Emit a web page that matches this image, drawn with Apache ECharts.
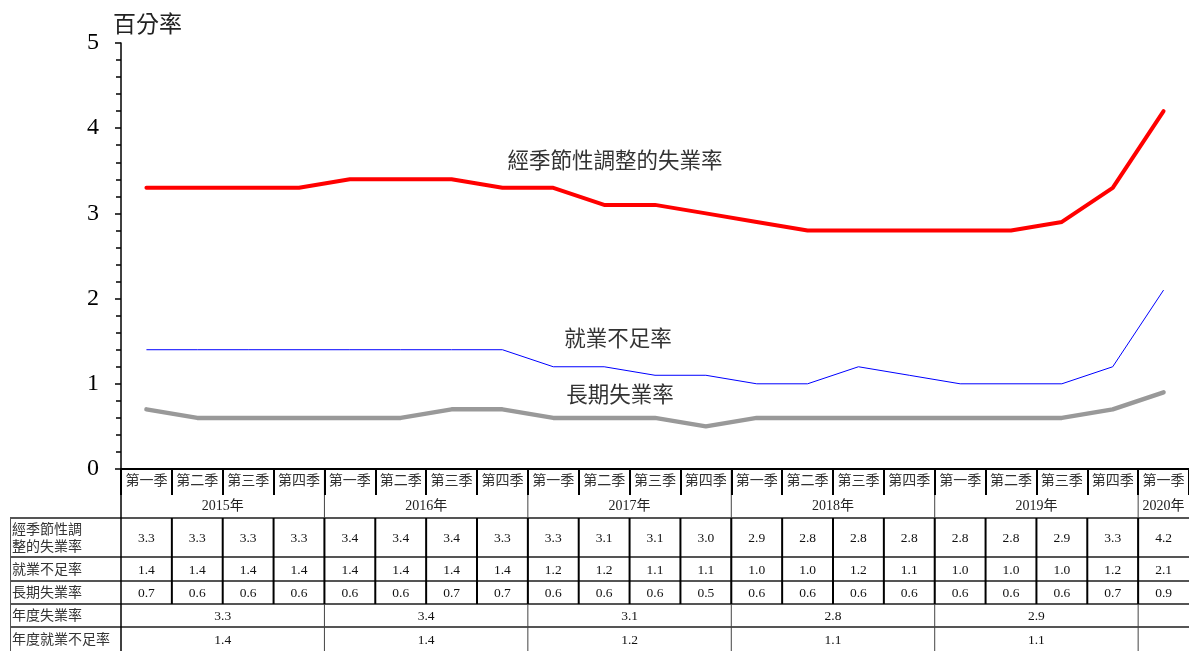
<!DOCTYPE html>
<html><head><meta charset="utf-8">
<script src="https://cdn.jsdelivr.net/npm/echarts@6/dist/echarts.min.js"></script>
<style>html,body{margin:0;padding:0;background:#fff}#c{width:1189px;height:651px}</style>
</head><body><div id="c"></div>
<script>
const quarters = ['第一季','第二季','第三季','第四季','第一季','第二季','第三季','第四季','第一季','第二季','第三季','第四季','第一季','第二季','第三季','第四季','第一季','第二季','第三季','第四季','第一季'];
const years = ['2015年','2016年','2017年','2018年','2019年','2020年'];
const yearSpans = [4,4,4,4,4,1];
const seasonal = [3.3,3.3,3.3,3.3,3.4,3.4,3.4,3.3,3.3,3.1,3.1,3.0,2.9,2.8,2.8,2.8,2.8,2.8,2.9,3.3,4.2];
const underemp = [1.4,1.4,1.4,1.4,1.4,1.4,1.4,1.4,1.2,1.2,1.1,1.1,1.0,1.0,1.2,1.1,1.0,1.0,1.0,1.2,2.1];
const longterm = [0.7,0.6,0.6,0.6,0.6,0.6,0.7,0.7,0.6,0.6,0.6,0.5,0.6,0.6,0.6,0.6,0.6,0.6,0.6,0.7,0.9];
const annualUnemp = ['3.3','3.4','3.1','2.8','2.9',''];
const annualUnder = ['1.4','1.4','1.2','1.1','1.1',''];
const rowLabels = ['經季節性調\n整的失業率','就業不足率','長期失業率','年度失業率','年度就業不足率'];
const seriesNames = ['經季節性調整的失業率','就業不足率','長期失業率'];
const yName = '百分率';

const serif = '"Liberation Serif","Noto Sans CJK TC",serif';
const cjk = '"Liberation Serif","Noto Sans CJK TC",sans-serif';

const chart = echarts.init(document.getElementById('c'));
chart.setOption({
  animation: false,
  backgroundColor: '#fff',
  grid: {left: 121, top: 43, width: 1070, height: 426, containLabel: false},
  xAxis: {
    type: 'category', data: quarters, boundaryGap: true,
    axisLine: {show: true, lineStyle: {color: '#000', width: 2}},
    axisTick: {show: true, interval: 0, length: 26, lineStyle: {color: '#000', width: 2}},
    axisLabel: {interval: 0, fontSize: 14, fontFamily: cjk, color: '#333', margin: 5},
    splitLine: {show: false}
  },
  yAxis: {
    type: 'value', min: 0, max: 5, interval: 1,
    name: yName, nameLocation: 'end', nameGap: 6,
    nameTextStyle: {fontSize: 23, fontFamily: cjk, color: '#222', align: 'left', padding: [0,0,0,-8], verticalAlign: 'bottom'},
    axisLine: {show: true, lineStyle: {color: '#000', width: 1.5}},
    axisTick: {show: true, length: 6, lineStyle: {color: '#000', width: 1.5}},
    minorTick: {show: true, splitNumber: 5, length: 5, lineStyle: {color: '#000', width: 1.5}},
    axisLabel: {fontSize: 24, fontFamily: serif, color: '#000', margin: 22},
    splitLine: {show: false}
  },
  series: [
    {name: seriesNames[0], type: 'line', data: seasonal, symbol: 'none', lineStyle: {color: '#ff0000', width: 4, cap: 'round'}},
    {name: seriesNames[1], type: 'line', data: underemp, symbol: 'none', lineStyle: {color: '#0000ff', width: 1}},
    {name: seriesNames[2], type: 'line', data: longterm, symbol: 'none', lineStyle: {color: '#999999', width: 4.5, cap: 'round'}}
  ]
});

// Table built from the category axis positions
const c = i => chart.convertToPixel({xAxisIndex: 0}, i);
const step = c(1) - c(0);
const b = i => c(0) + (i - 0.5) * step;
const els = [];
const rows = [[518,557],[557,581],[581,604],[604,627],[627,651]];
const W = 1189;
const lineGray = '#555';
[518,557,581,604,627].forEach(y => els.push({type:'line', shape:{x1:10,y1:y,x2:W,y2:y}, style:{stroke:lineGray, lineWidth:2}}));
els.push({type:'line', shape:{x1:10.5,y1:518,x2:10.5,y2:651}, style:{stroke:'#555', lineWidth:1}});
els.push({type:'line', shape:{x1:b(0),y1:469,x2:b(0),y2:651}, style:{stroke:'#000', lineWidth:1.5}});
let acc = 0;
const yearStart = [];
yearSpans.forEach(s => { yearStart.push(acc); acc += s; });
yearStart.slice(1).forEach(s => els.push({type:'line', shape:{x1:b(s),y1:470,x2:b(s),y2:651}, style:{stroke:'#444', lineWidth:1}}));
years.forEach((y, k) => {
  const x = (b(yearStart[k]) + b(yearStart[k] + yearSpans[k])) / 2;
  els.push({type:'text', x: x, y: 506, style:{text:y, fill:'#222', font:'14px ' + serif, textAlign:'center', textVerticalAlign:'middle'}});
});
const qRows = [seasonal, underemp, longterm];
qRows.forEach((arr, r) => {
  const [t, btm] = rows[r];
  arr.forEach((v, i) => {
    els.push({type:'text', x: c(i), y: (t + btm) / 2 + 1, style:{text: v.toFixed(1), fill:'#111', font:'13.5px ' + serif, textAlign:'center', textVerticalAlign:'middle'}});
  });
  for (let i = 1; i < arr.length; i++) {
    els.push({type:'line', shape:{x1:b(i),y1:t,x2:b(i),y2:btm}, style:{stroke:'#000', lineWidth:2}});
  }
});
[annualUnemp, annualUnder].forEach((arr, r) => {
  const [t, btm] = rows[3 + r];
  arr.forEach((v, k) => {
    const x = (b(yearStart[k]) + b(yearStart[k] + yearSpans[k])) / 2;
    els.push({type:'text', x: x, y: (t + btm) / 2 + 1, style:{text: v, fill:'#111', font:'13.5px ' + serif, textAlign:'center', textVerticalAlign:'middle'}});
  });
});
rowLabels.forEach((lab, r) => {
  const [t, btm] = rows[r];
  els.push({type:'text', x: 12, y: (t + btm) / 2 + 1, style:{text: lab, fill:'#333', font:'14px ' + cjk, textAlign:'left', textVerticalAlign:'middle', lineHeight: 17}});
});
const ann = [[seriesNames[0], 615, 162], [seriesNames[1], 618, 340], [seriesNames[2], 620, 396]];
ann.forEach(([t, x, y]) => els.push({type:'text', x: x, y: y, style:{text: t, fill:'#333', font:'21.5px ' + cjk, textAlign:'center', textVerticalAlign:'middle'}}));
chart.setOption({graphic: {elements: els}});
</script></body></html>
